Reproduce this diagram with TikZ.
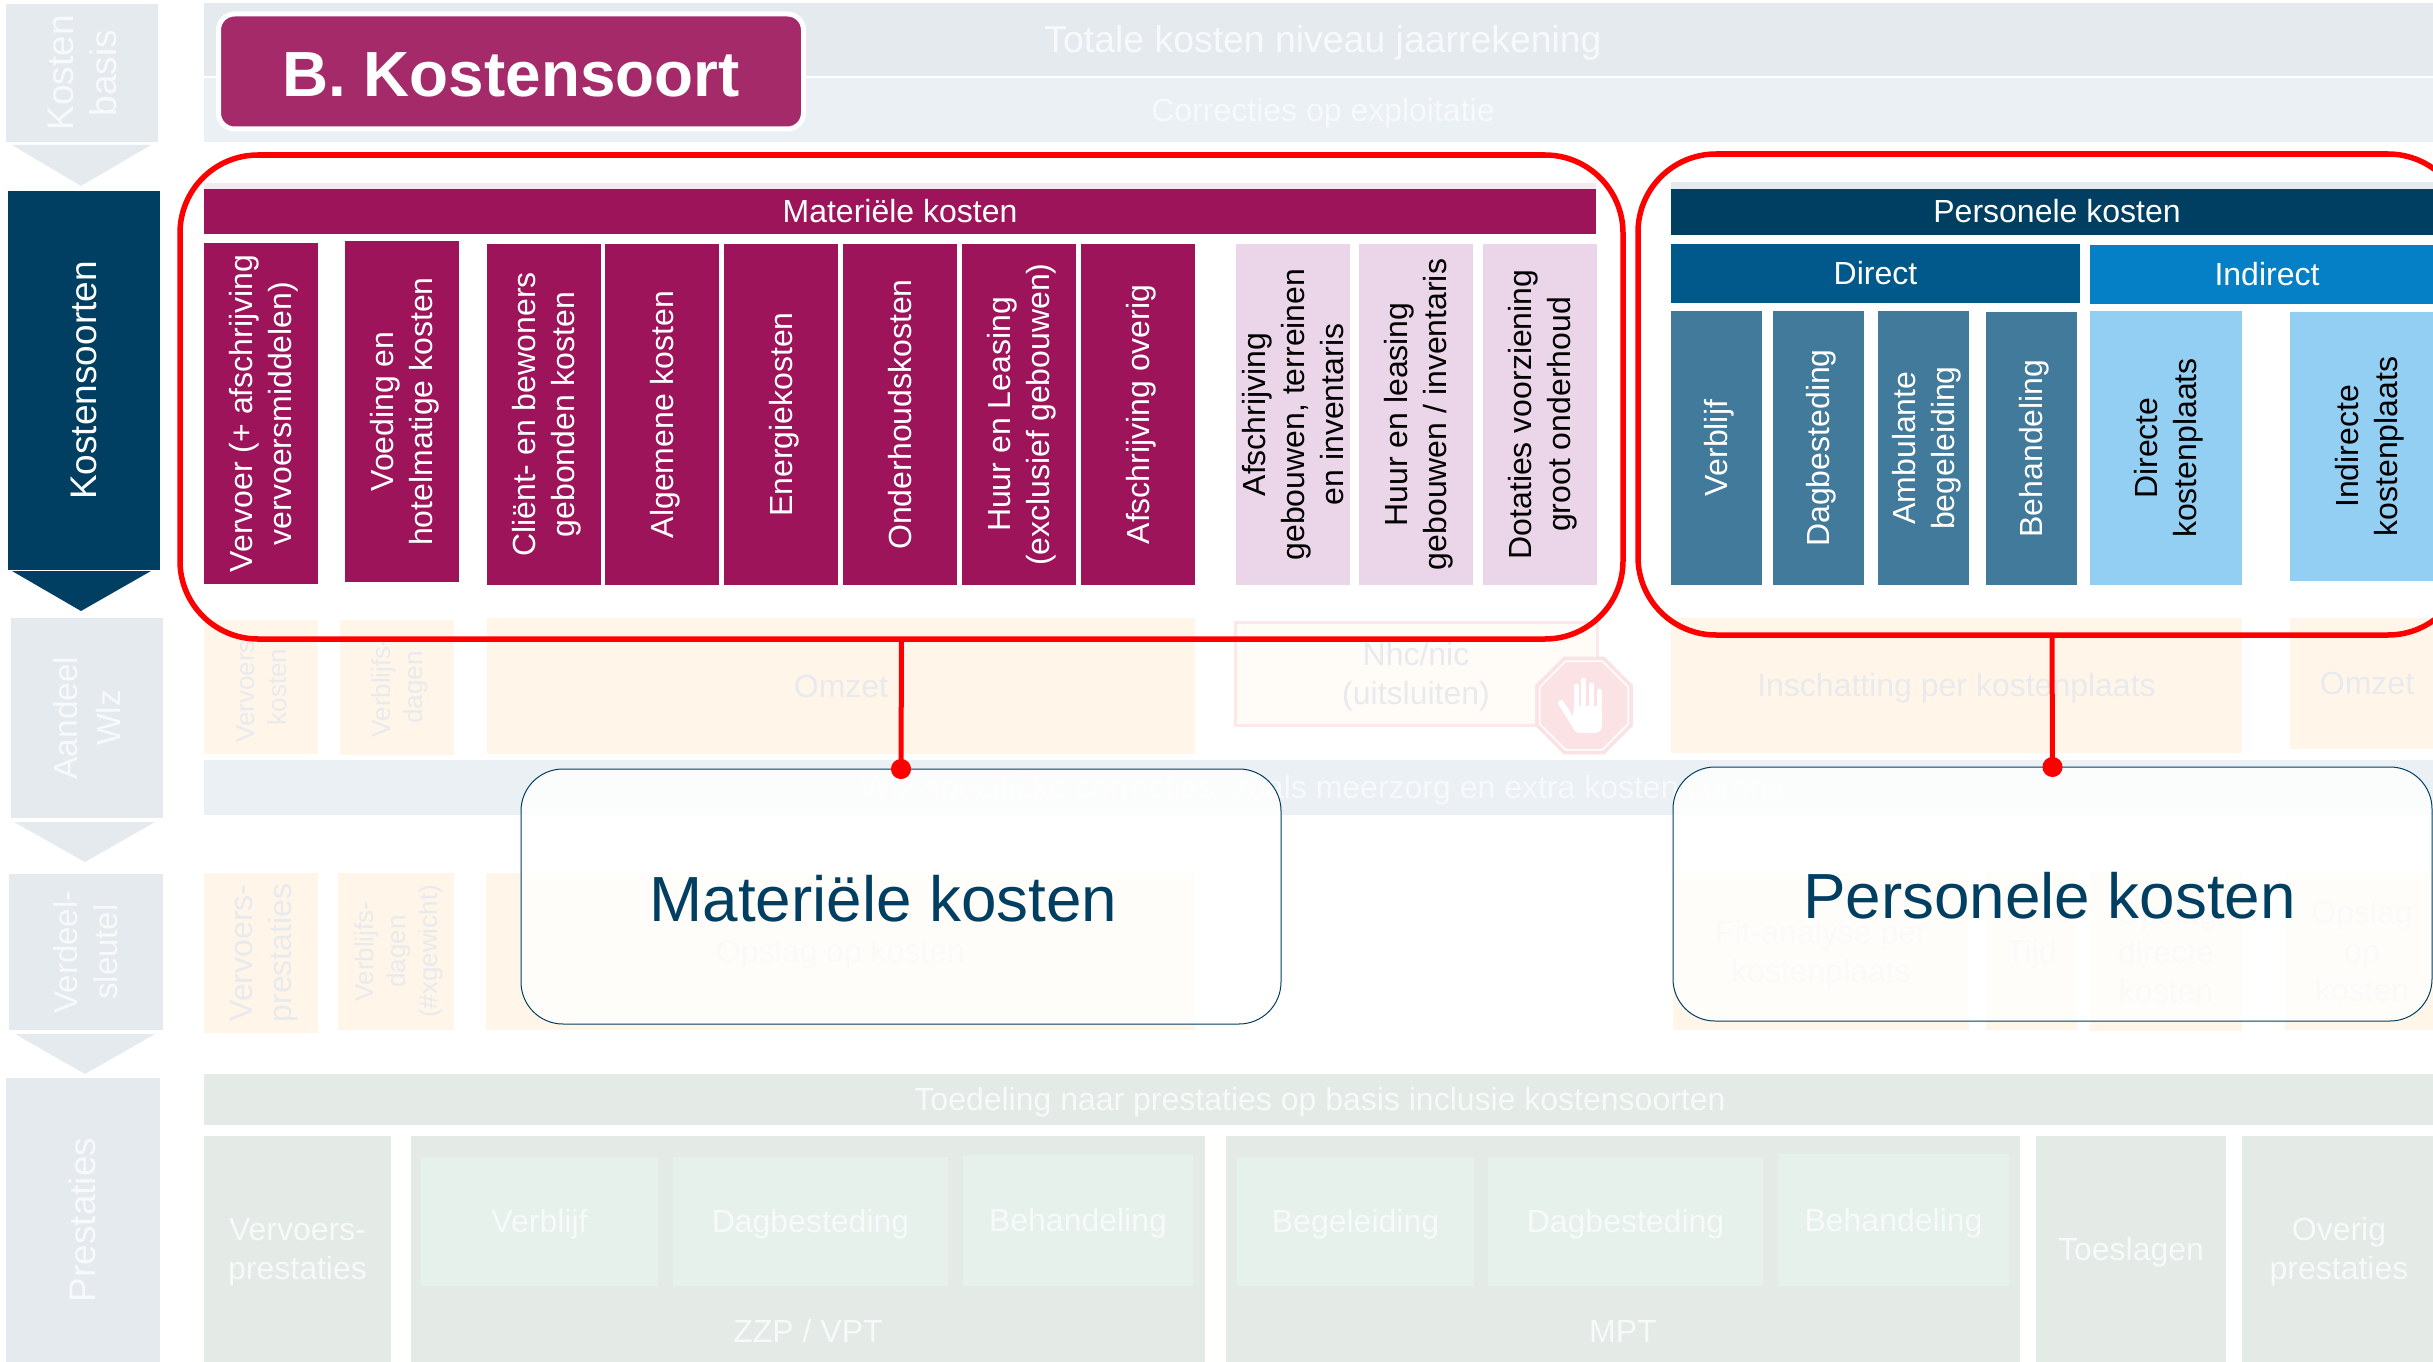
\documentclass[tikz,border=0pt]{standalone}
\usepackage{fontspec}
\setmainfont{Liberation Sans}
\usetikzlibrary{arrows.meta,shapes.geometric}
\definecolor{vwGrey}{HTML}{E5EAEF}
\definecolor{vwPale}{HTML}{EBF0F4}
\definecolor{vwSage}{HTML}{E4EAE6}
\definecolor{vwMint}{HTML}{E6F1EB}
\definecolor{vwSand}{HTML}{FFF6E9}
\definecolor{vwFaint}{HTML}{E8EAEE}
\definecolor{vwGhost}{HTML}{F7F9FA}
\definecolor{vwWine}{HTML}{9E145B}
\definecolor{vwTitle}{HTML}{A42A6A}
\definecolor{vwLilac}{HTML}{EBD6E9}
\definecolor{vwNavy}{HTML}{003F61}
\definecolor{vwDirect}{HTML}{00598A}
\definecolor{vwIndirect}{HTML}{0580C6}
\definecolor{vwSteel}{HTML}{417A9B}
\definecolor{vwSky}{HTML}{92CFF2}
\definecolor{vwStop}{HTML}{FBE2E4}
\newcommand{\linestrut}{\rule[-.212em]{0pt}{1.117em}}
\tikzset{
    base/.style={inner sep=0pt, outer sep=0pt, align=center, font=\fontsize{32}{39}\selectfont,
                 execute at begin node=\linestrut, execute at end node=\linestrut},
    sized/.style 2 args={minimum width=#1pt, minimum height=#2pt},
    small/.style={font=\fontsize{26}{32}\selectfont},
    level/.style={base, fill=vwGrey, text=vwGhost, font=\fontsize{37}{43}\selectfont, rotate=90},
    band/.style={base, fill=vwPale, text=vwGhost},
    wine/.style={base, fill=vwWine, text=white},
    winecol/.style={wine, rotate=90},
    lilaccol/.style={base, fill=vwLilac, text=black, rotate=90},
    steelcol/.style={base, fill=vwSteel, text=white, rotate=90},
    skycol/.style={base, fill=vwSky, text=black, rotate=90},
    sand/.style={base, fill=vwSand, text=vwFaint},
    sandcol/.style={sand, rotate=90},
    sage/.style={base, fill=vwSage, text=vwGhost},
    mint/.style={base, fill=vwMint, text=vwGhost},
    ring/.style={base, draw=red, line width=5.5pt, rounded corners=78pt},
    callout/.style={base, draw=vwNavy, line width=1pt, fill=white, fill opacity=0.8, text opacity=1,
                    text=vwNavy, rounded corners=42pt, font=\fontsize{63.8}{76}\selectfont},
    leader/.style={draw=red, line width=5pt, -{Circle[length=20pt,width=20pt]}, shorten >=-10pt},
    hand/.style={draw=white, line cap=round}
}
\begin{document}
\begin{tikzpicture}[x=1pt,y=-1pt]
  \clip (0,0) rectangle (2433,1362);

  % Left column
  \node[level, sized={138}{152}] (basis) at (82,73) {\linestrut Kosten\\basis};
  \fill[vwGrey] (12,145) -- (151,145) -- (81,186) -- cycle;
  \node[level, fill=vwNavy, text=white, sized={379}{152}] (soorten) at (84,380.5) {Kostensoorten};
  \fill[vwNavy] (12,571) -- (151,571) -- (81,611) -- cycle;
  \node[level, font=\fontsize{33.5}{43}\selectfont, sized={200}{152}] (aandeel) at (87,718) {\linestrut Aandeel\\Wlz};
  \fill[vwGrey] (14,822) -- (155,822) -- (85,862) -- cycle;
  \node[level, font=\fontsize{33}{40}\selectfont, sized={156}{154}] (verdeel) at (86,952) {\linestrut Verdeel-\\sleutel};
  \fill[vwGrey] (15,1034) -- (155,1034) -- (85,1074) -- cycle;
  \node[level, sized={284}{154}] (prestaties) at (83,1220) {Prestaties};

  % Top bands
  \node[band, fill=vwGrey, font=\fontsize{37.4}{44}\selectfont, sized={2238}{73}] (totaal) at (1323,39.5) {Totale kosten niveau jaarrekening};
  \node[band, sized={2238}{64}] (correctie) at (1323,110) {Correcties op exploitatie};
  \node[base, draw=white, line width=5pt, fill=vwTitle, text=white, rounded corners=16pt,
        font=\fontsize{63.8}{76}\selectfont\bfseries, sized={585}{115}] (titel) at (511,71.5) {\raisebox{-3pt}[\height][\depth]{B. Kostensoort}};

  % Materiele kosten
  \fill[vwWine!10] (204,183) rectangle (1596,189);
  \node[wine, sized={1392}{45}] (mathead) at (900,211.5) {Materiële kosten};
  \node[winecol, sized={341}{114}] (vervoer) at (261,413.5) {\linestrut Vervoer (+ afschrijving\\vervoersmiddelen)};
  \node[winecol, sized={341}{114}] (voeding) at (402,411.5) {\linestrut Voeding en\\hotelmatige kosten};
  \node[winecol, sized={341}{114}] (client) at (544,414.5) {\linestrut Cliënt- en bewoners\\gebonden kosten};
  \node[winecol, sized={341}{114}] (algemeen) at (662,414.5) {Algemene kosten};
  \node[winecol, sized={341}{114}] (energie) at (781,414.5) {Energiekosten};
  \node[winecol, sized={341}{114}] (onderhoud) at (900,414.5) {Onderhoudskosten};
  \node[winecol, sized={341}{114}] (huur) at (1019,414.5) {\linestrut Huur en Leasing\\(exclusief gebouwen)};
  \node[winecol, sized={341}{114}] (afschr) at (1138,414.5) {Afschrijving overig};
  \node[lilaccol, sized={341}{114}] (gebouwen) at (1293,414.5) {\linestrut Afschrijving\\gebouwen, terreinen\\en inventaris};
  \node[lilaccol, sized={341}{114}] (leasing) at (1416,414.5) {\linestrut Huur en leasing\\gebouwen / inventaris};
  \node[lilaccol, sized={341}{114}] (dotatie) at (1540,414.5) {\linestrut Dotaties voorziening\\groot onderhoud};

  % Personele kosten
  \fill[vwGrey] (1671,182) rectangle (2443,189);
  \node[base, fill=vwNavy, text=white, sized={772}{45.5}] (perhead) at (2057,211.75) {Personele kosten};
  \node[base, fill=vwDirect, text=white, sized={409}{59}] (direct) at (1875.5,273.5) {Direct};
  \node[base, fill=vwIndirect, text=white, sized={354}{59}] (indirect) at (2267,274.5) {Indirect};
  \node[steelcol, sized={274}{91}] (verblijf) at (1716.5,448) {Verblijf};
  \node[steelcol, sized={274}{91}] (dagbest) at (1818.5,448) {Dagbesteding};
  \node[steelcol, sized={274}{91}] (ambulant) at (1923.5,448) {\linestrut Ambulante\\begeleiding};
  \node[steelcol, sized={273}{91}] (behandel) at (2031.5,448.5) {Behandeling};
  \node[skycol, sized={274}{152}] (dirplaats) at (2166,448) {\linestrut Directe\\kostenplaats};
  \node[skycol, sized={269}{154}] (indplaats) at (2367,446.5) {\linestrut Indirecte\\kostenplaats};

  % Aandeel Wlz
  \node[sandcol, small, sized={134}{114}] (verkost) at (261,687) {\linestrut Vervoers-\\kosten};
  \node[sandcol, small, sized={135}{114}] (verdagen) at (397,687.5) {\linestrut Verblijfs-\\dagen};
  \fill[vwSand] (204,620) rectangle (318,638);
  \fill[vwSand] (340,620) rectangle (454,638);
  \node[sand, sized={708}{136}] (omzetmat) at (841,686) {Omzet};
  \node[sand, fill=vwSand!30, draw=vwStop!80, line width=3pt, sized={362}{103}] (nhc) at (1416,673.5) {\linestrut Nhc/nic\\(uitsluiten)};
  \node[sand, sized={571}{135}] (inschat) at (1956.5,685.5) {Inschatting per kostenplaats};
  \node[sand, sized={154}{131}] (omzetind) at (2367,683.5) {Omzet};
  \node[band, sized={2238}{55}] (wlz) at (1323,787.5) {Wlz-specifieke correcties, zoals meerzorg en extra kosten corona};

  % Stop sign
  \node[regular polygon, regular polygon sides=8, fill=vwStop, minimum size=106pt, inner sep=0pt] (stop) at (1584,705.5) {};
  \node[regular polygon, regular polygon sides=8, draw=white, line width=1.5pt, minimum size=96pt, inner sep=0pt] (stopline) at (stop) {};
  \draw[hand, line width=5pt] (1576.7,686) -- (1576.7,712);
  \draw[hand, line width=5pt] (1583.7,680) -- (1583.7,712);
  \draw[hand, line width=5pt] (1591.3,685) -- (1591.3,712);
  \draw[hand, line width=5pt] (1599.7,691) -- (1599.7,712);
  \draw[hand, line width=6pt] (1561,703) -- (1576,727);
  \fill[white, rounded corners=7pt] (1573,706) -- (1602,706) -- (1602,733) -- (1573,733) -- cycle;

  % Verdeelsleutel
  \node[sandcol, sized={160}{114}] (verprest) at (261,953) {\linestrut Vervoers-\\prestaties};
  \node[sandcol, small, sized={157}{116}] (verdagen2) at (396,951.5) {\linestrut Verblijfs-\\dagen\\(\#xgewicht)};
  \node[sand, sized={709}{157}] (opslagmat) at (840.5,951.5) {Opslag op kosten};
  \node[sand, sized={296}{157}] (fit) at (1821,951.5) {\linestrut Fit-analyse per\\kostenplaats};
  \node[sand, sized={91}{157}] (tijd) at (2031.5,951.5) {Tijd};
  \node[sand, sized={152}{158}] (opsdir) at (2166,952) {\linestrut Opslag\\directe\\kosten};
  \node[sand, sized={154}{157}] (opsop) at (2362,951.5) {\linestrut Opslag\\op\\kosten};

  % Prestaties
  \node[sage, sized={2232}{51}] (toedeling) at (1320,1099.5) {Toedeling naar prestaties op basis inclusie kostensoorten};
  \node[sage, sized={187}{226}] (vervprest) at (297.5,1249) {\linestrut Vervoers-\\prestaties};
  \node[sage, sized={794}{226}] (zzp) at (808,1249) {};
  \node[sage, sized={794}{226}] (mpt) at (1623,1249) {};
  \node[sage, sized={190}{226}] (toeslag) at (2131,1249) {Toeslagen};
  \node[sage, sized={194}{226}] (overig) at (2339,1249) {\linestrut Overig\\prestaties};
  \node[mint, sized={237}{129}] (zzpverb) at (539.5,1221.5) {Verblijf};
  \node[mint, sized={275}{129}] (zzpdag) at (810.5,1221.5) {Dagbesteding};
  \node[mint, sized={230}{131}] (zzpbeh) at (1078,1220.5) {Behandeling};
  \node[mint, sized={237}{129}] (mptbeg) at (1355.5,1221.5) {Begeleiding};
  \node[mint, sized={275}{129}] (mptdag) at (1625.5,1221.5) {Dagbesteding};
  \node[mint, sized={231}{132}] (mptbeh) at (1893.5,1220) {Behandeling};
  \node[base, text=vwGhost] (zzplabel) at (808,1331) {ZZP / VPT};
  \node[base, text=vwGhost] (mptlabel) at (1623,1331) {MPT};

  % Red rings and callouts
  \node[ring, sized={1443}{484}] (matring) at (901.5,397) {};
  \node[ring, sized={828}{481}] (perring) at (2052,394.5) {};
  \node[callout, sized={760}{255}] (matcall) at (901,896.5) {\raisebox{-2.5pt}[\height][\depth]{Materiële kosten}\hspace*{35pt}};
  \node[callout, sized={759}{254}] (percall) at (2052.5,894) {\raisebox{-2.5pt}[\height][\depth]{Personele kosten}\hspace*{6pt}};
  \draw[leader] (matring.south) -- (matcall.north);
  \draw[leader] (perring.south) -- (percall.north);
\end{tikzpicture}
\end{document}
